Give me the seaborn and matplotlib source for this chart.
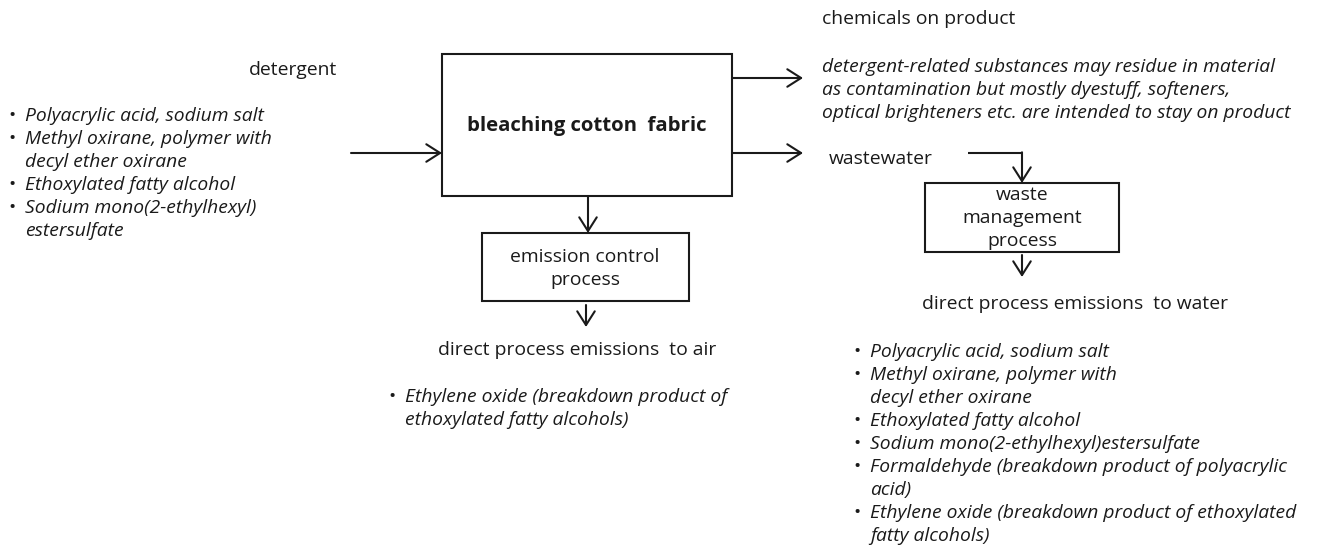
import matplotlib
matplotlib.use("Agg")
import matplotlib.pyplot as plt
import seaborn as sns
from matplotlib.patches import Rectangle

sns.set_theme(style="white")
plt.rcParams['font.family'] = ['Open Sans', 'DejaVu Sans']

# ---- content ----
input_label = "detergent"
input_items = [
    ["Polyacrylic acid, sodium salt"],
    ["Methyl oxirane, polymer with", "decyl ether oxirane"],
    ["Ethoxylated fatty alcohol"],
    ["Sodium mono(2-ethylhexyl)", "estersulfate"],
]
main_process = "bleaching cotton  fabric"
product_label = "chemicals on product"
product_note = [
    "detergent-related substances may residue in material",
    "as contamination but mostly dyestuff, softeners,",
    "optical brighteners etc. are intended to stay on product",
]
wastewater_label = "wastewater"
waste_process = ["waste", "management", "process"]
emission_process = ["emission control", "process"]
air_label = "direct process emissions  to air"
air_items = [
    ["Ethylene oxide (breakdown product of", "ethoxylated fatty alcohols)"],
]
water_label = "direct process emissions  to water"
water_items = [
    ["Polyacrylic acid, sodium salt"],
    ["Methyl oxirane, polymer with", "decyl ether oxirane"],
    ["Ethoxylated fatty alcohol"],
    ["Sodium mono(2-ethylhexyl)estersulfate"],
    ["Formaldehyde (breakdown product of polyacrylic", "acid)"],
    ["Ethylene oxide (breakdown product of ethoxylated", "fatty alcohols)"],
]

# ---- figure ----
W, H = 1338, 545
fig = plt.figure(figsize=(W / 100, H / 100), dpi=100)
ax = fig.add_axes([0, 0, 1, 1])
ax.set_xlim(0, W)
ax.set_ylim(H, 0)
ax.axis("off")

FS = 13.9
LW = 1.5
TXT = "#1a1a1a"
LINE = "#1a1a1a"
LH = 23  # line height in px


def arrow(x0, y0, x1, y1):
    ax.annotate("", xy=(x1, y1), xytext=(x0, y0),
                arrowprops=dict(arrowstyle="->,head_length=0.55,head_width=0.35",
                                lw=LW, color=LINE, shrinkA=0, shrinkB=0,
                                mutation_scale=18))


def box(x0, y0, x1, y1):
    ax.add_patch(Rectangle((x0, y0), x1 - x0, y1 - y0, fill=False,
                           lw=LW, ec=LINE))


def bullets(items, xb, xt, y0):
    y = y0
    for item in items:
        ax.text(xb, y, "•", fontsize=FS, va="center", ha="center", color=TXT)
        for line in item:
            ax.text(xt, y, line, fontsize=FS, style="italic", va="center",
                    ha="left", color=TXT)
            y += LH
    return y


# input side
ax.text(293, 70, input_label, fontsize=FS, ha="center", va="center", color=TXT)
bullets(input_items, 12, 25, 116)
arrow(351, 153, 442, 153)

# main box
box(442, 54, 732, 196)
ax.text(587, 126, main_process, fontsize=FS + 0.8, fontweight="bold", ha="center",
        va="center", color=TXT)

# outputs to right
arrow(732, 78, 803, 78)
arrow(732, 153, 803, 153)
ax.text(822, 19, product_label, fontsize=FS, ha="left", va="center", color=TXT)
for i, line in enumerate(product_note):
    ax.text(822, 67 + i * 23, line, fontsize=FS, style="italic", ha="left",
            va="center", color=TXT)

ax.text(829, 159, wastewater_label, fontsize=FS, ha="left", va="center", color=TXT)
ax.plot([968, 1022], [153, 153], color=LINE, lw=LW, solid_capstyle="butt")
arrow(1022, 152.3, 1022, 183)
box(925, 183, 1119, 252)
for i, line in enumerate(waste_process):
    ax.text(1022, 195 + i * 23, line, fontsize=FS, ha="center", va="center", color=TXT)
arrow(1022, 255, 1022, 277)
ax.text(1075, 304, water_label, fontsize=FS, ha="center", va="center", color=TXT)
bullets(water_items, 857, 870, 352)

# emissions to air
arrow(588, 196, 588, 233)
box(482, 233, 689, 301)
for i, line in enumerate(emission_process):
    ax.text(585, 257 + i * 23, line, fontsize=FS, ha="center", va="center", color=TXT)
arrow(586, 305, 586, 327)
ax.text(577, 350, air_label, fontsize=FS, ha="center", va="center", color=TXT)
bullets(air_items, 392, 405, 397)

fig.savefig("out.png", dpi=100, facecolor="white")
